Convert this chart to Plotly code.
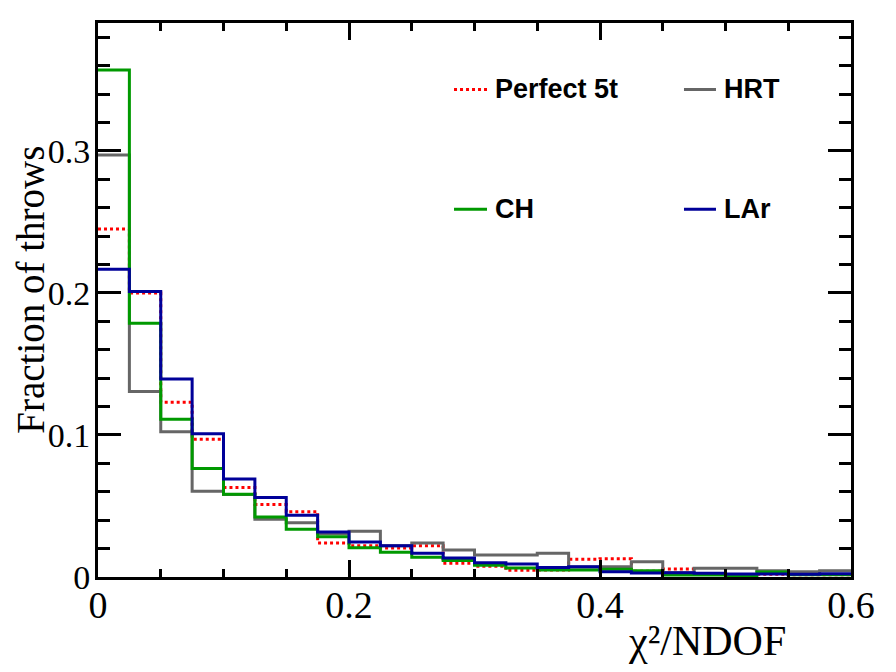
import plotly.graph_objects as go

# bin edges of chi2/NDOF histogram
bin_edges = [0.0, 0.025, 0.05, 0.075, 0.1, 0.125, 0.15, 0.175, 0.2, 0.225, 0.25, 0.275,
             0.3, 0.325, 0.35, 0.375, 0.4, 0.425, 0.45, 0.475, 0.5, 0.525, 0.55, 0.575, 0.6]

perfect_5t = [0.245, 0.200, 0.123, 0.097, 0.063, 0.051, 0.046, 0.024, 0.022, 0.0205, 0.022, 0.0096,
              0.0075, 0.0047, 0.005, 0.0125, 0.0129, 0.004, 0.0056, 0.002, 0.0015, 0.002, 0.0015, 0.0015]
hrt = [0.297, 0.1305, 0.1023, 0.0603, 0.058, 0.0406, 0.0382, 0.0305, 0.0322, 0.022, 0.024, 0.019,
       0.0155, 0.0155, 0.0167, 0.007, 0.0073, 0.0108, 0.003, 0.0061, 0.0061, 0.0044, 0.0037, 0.0044]
ch = [0.357, 0.1787, 0.111, 0.0763, 0.0582, 0.0423, 0.0336, 0.0284, 0.0206, 0.0174, 0.0139, 0.0117,
      0.0082, 0.0063, 0.0049, 0.005, 0.0054, 0.0044, 0.0014, 0.0014, 0.001, 0.0035, 0.0015, 0.0015]
lar = [0.2167, 0.201, 0.1394, 0.1009, 0.069, 0.0559, 0.0434, 0.0317, 0.0246, 0.022, 0.0167, 0.0134,
       0.0101, 0.0092, 0.0066, 0.0073, 0.0037, 0.0028, 0.003, 0.0026, 0.0021, 0.0021, 0.0019, 0.0023]

series = [
    ("Perfect 5t", perfect_5t, "#ff0000", "dot"),
    ("HRT", hrt, "#666666", "solid"),
    ("CH", ch, "#009900", "solid"),
    ("LAr", lar, "#000099", "solid"),
]

fig = go.Figure()
for name, vals, color, dash in series:
    fig.add_trace(go.Scatter(
        x=bin_edges, y=vals + [vals[-1]],
        mode="lines", line=dict(shape="hv", color=color, width=3, dash=dash),
        name=name, showlegend=False, hoverinfo="skip"))

# legend drawn by hand in two columns (ROOT style)
legend_pos = {
    "Perfect 5t": (0.4728, 0.5166, 0.5246, 0.880),
    "HRT": (0.7782, 0.8207, 0.8287, 0.880),
    "CH": (0.4728, 0.5166, 0.5246, 0.664),
    "LAr": (0.7782, 0.8207, 0.8287, 0.664),
}
for name, vals, color, dash in series:
    x0, x1, xt, yy = legend_pos[name]
    fig.add_shape(type="line", xref="paper", yref="paper", x0=x0, x1=x1, y0=yy, y1=yy,
                  line=dict(color=color, width=3, dash=dash))
    fig.add_annotation(text="<b>%s</b>" % name, xref="paper", yref="paper", x=xt, y=yy,
                       xanchor="left", yanchor="middle", showarrow=False,
                       font=dict(family="Liberation Sans", size=27, color="black"))

fig.add_annotation(text="χ²/NDOF", xref="paper", yref="paper", x=0.809, y=-0.115,
                   xanchor="center", yanchor="middle", showarrow=False,
                   font=dict(family="Liberation Serif", size=42, color="black"))
fig.add_annotation(text="Fraction of throws", xref="paper", yref="paper", x=-0.090, y=0.519,
                   xanchor="center", yanchor="middle", textangle=-90, showarrow=False,
                   borderpad=0,
                   font=dict(family="Liberation Serif", size=39, color="black"))

axis_common = dict(showgrid=False, zeroline=False, showline=True, linecolor="black", linewidth=3,
                   mirror="allticks", ticks="inside", tickcolor="black", tickwidth=3)
fig.update_xaxes(range=[0, 0.6], dtick=0.2, tick0=0, ticklen=17, ticklabelstandoff=-8,
                 tickfont=dict(family="Liberation Serif", size=38, color="black"),
                 minor=dict(dtick=0.05, ticklen=8, ticks="inside", tickcolor="black", tickwidth=3),
                 **axis_common)
fig.update_yaxes(range=[0, 0.39], dtick=0.1, tick0=0, ticklen=23, ticklabelstandoff=-2,
                 tickfont=dict(family="Liberation Serif", size=34, color="black"),
                 minor=dict(dtick=0.02, ticklen=12, ticks="inside", tickcolor="black", tickwidth=3),
                 **axis_common)

# the page adds 8px body margin, so shift the frame up/left by that much
fig.update_layout(width=896, height=672, autosize=False,
                  margin=dict(l=90, r=53, t=12, b=103),
                  plot_bgcolor="white", paper_bgcolor="white")

fig.write_html("out.html")
